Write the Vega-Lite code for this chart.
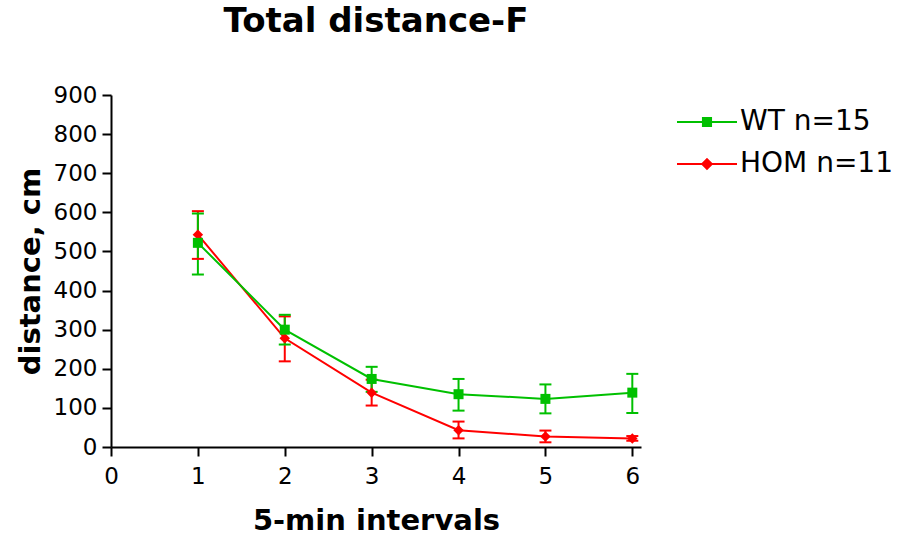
{
  "$schema": "https://vega.github.io/schema/vega-lite/v6.json",
  "autosize": "none",
  "width": 530,
  "height": 352,
  "padding": {"left": 111, "top": 95, "right": 277, "bottom": 89},
  "background": "white",
  "title": {"text": "Total distance-F", "font": "DejaVu Sans", "fontSize": 34, "fontWeight": "bold", "color": "black", "anchor": "middle", "frame": "group", "baseline": "alphabetic", "offset": 18},
  "data": {"values": [
    {"interval": 1, "series": "HOM n=11", "mean": 543, "lo": 481, "hi": 603},
    {"interval": 2, "series": "HOM n=11", "mean": 278, "lo": 219, "hi": 334},
    {"interval": 3, "series": "HOM n=11", "mean": 139, "lo": 106, "hi": 172},
    {"interval": 4, "series": "HOM n=11", "mean": 43, "lo": 22, "hi": 65},
    {"interval": 5, "series": "HOM n=11", "mean": 27, "lo": 12, "hi": 42},
    {"interval": 6, "series": "HOM n=11", "mean": 22, "lo": 16, "hi": 28},
    {"interval": 1, "series": "WT n=15", "mean": 522, "lo": 441, "hi": 597},
    {"interval": 2, "series": "WT n=15", "mean": 300, "lo": 262, "hi": 338},
    {"interval": 3, "series": "WT n=15", "mean": 174, "lo": 141, "hi": 205},
    {"interval": 4, "series": "WT n=15", "mean": 135, "lo": 93, "hi": 174},
    {"interval": 5, "series": "WT n=15", "mean": 123, "lo": 86, "hi": 160},
    {"interval": 6, "series": "WT n=15", "mean": 139, "lo": 87, "hi": 187}
  ]},
  "encoding": {
    "x": {"field": "interval", "type": "quantitative",
      "scale": {"domain": [0, 6.1], "nice": false, "zero": true},
      "axis": {"values": [0, 1, 2, 3, 4, 5, 6], "title": "5-min intervals", "format": "d",
        "labelFontSize": 23, "titleFontSize": 29, "titlePadding": 18, "labelPadding": 9}},
    "y": {"field": "mean", "type": "quantitative",
      "scale": {"domain": [0, 900], "nice": false},
      "axis": {"values": [0, 100, 200, 300, 400, 500, 600, 700, 800, 900], "title": "distance, cm",
        "labelFontSize": 23, "titleFontSize": 29, "titlePadding": 8, "labelPadding": 5}},
    "color": {"field": "series", "type": "nominal",
      "scale": {"domain": ["WT n=15", "HOM n=11"], "range": ["#00c000", "#ff0000"]},
      "legend": {"title": null, "orient": "none", "legendX": 580, "legendY": 11, "padding": 0,
        "symbolSize": 900, "symbolStrokeWidth": 2, "labelFontSize": 28, "labelOffset": 17,
        "rowPadding": 12, "labelColor": "black", "labelFont": "DejaVu Sans",
        "encode": {"symbols": {"update": {
          "shape": {"signal": "datum.value == 'WT n=15' ? 'M-2,0H2M-0.27,-0.27H0.27V0.27H-0.27Z' : 'M-2,0H2M0,-0.32L0.32,0L0,0.32L-0.32,0Z'"},
          "fill": {"scale": "color", "field": "value"},
          "stroke": {"scale": "color", "field": "value"},
          "strokeWidth": {"value": 2},
          "opacity": {"value": 1}
        }}}}}
  },
  "layer": [
    {"mark": {"type": "rule", "strokeWidth": 2},
      "encoding": {"y": {"field": "lo", "type": "quantitative"}, "y2": {"field": "hi"}}},
    {"mark": {"type": "tick", "orient": "horizontal", "thickness": 2, "size": 12, "opacity": 1},
      "encoding": {"y": {"field": "lo", "type": "quantitative"}}},
    {"mark": {"type": "tick", "orient": "horizontal", "thickness": 2, "size": 12, "opacity": 1},
      "encoding": {"y": {"field": "hi", "type": "quantitative"}}},
    {"mark": {"type": "line", "strokeWidth": 2}, "encoding": {}},
    {"transform": [{"filter": "datum.series == 'HOM n=11'"}],
      "mark": {"type": "point", "filled": true, "size": 110, "opacity": 1, "shape": "diamond"}},
    {"transform": [{"filter": "datum.series == 'WT n=15'"}],
      "mark": {"type": "point", "filled": true, "size": 100, "opacity": 1, "shape": "square"}}
  ],
  "config": {
    "view": {"stroke": null},
    "font": "DejaVu Sans",
    "axis": {"grid": false, "domainColor": "black", "domainWidth": 2, "tickColor": "black", "tickWidth": 2, "tickSize": 9,
      "labelColor": "black", "titleColor": "black", "labelFont": "DejaVu Sans", "titleFont": "DejaVu Sans", "titleFontWeight": "bold",
      "labelOverlap": false, "labelFlush": false, "labelBound": false}
  }
}
